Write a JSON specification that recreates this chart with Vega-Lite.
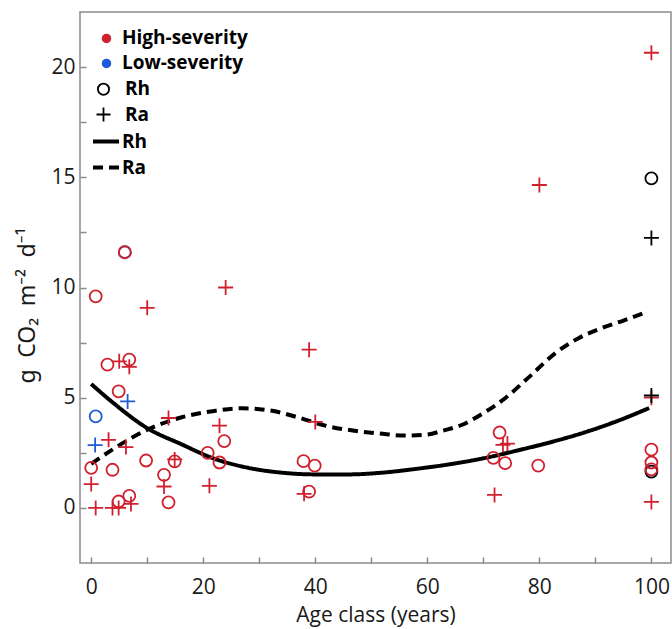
{
  "$schema": "https://vega.github.io/schema/vega-lite/v6.json",
  "width": 591,
  "height": 551,
  "autosize": {"type": "none"},
  "padding": {"left": 80, "top": 12, "right": 1, "bottom": 66},
  "config": {
    "font": "Open Sans",
    "view": {"stroke": "#8a8a8a", "strokeWidth": 1.5},
    "axis": {
      "grid": false,
      "domain": false,
      "tickColor": "#8a8a8a",
      "tickSize": -6,
      "tickWidth": 1.5,
      "labelFontSize": 21,
      "labelColor": "#1a1a1a",
      "labelPadding": 11,
      "titleFontSize": 21,
      "titleFontWeight": "normal",
      "titleColor": "#1a1a1a"
    }
  },
  "layer": [
    {
      "data": {
        "values": [
          {"age": 0, "flux": 5.62, "curve": "Rh fit"},
          {"age": 4, "flux": 4.75, "curve": "Rh fit"},
          {"age": 10, "flux": 3.62, "curve": "Rh fit"},
          {"age": 16, "flux": 2.9, "curve": "Rh fit"},
          {"age": 22, "flux": 2.23, "curve": "Rh fit"},
          {"age": 28, "flux": 1.82, "curve": "Rh fit"},
          {"age": 34, "flux": 1.6, "curve": "Rh fit"},
          {"age": 40, "flux": 1.52, "curve": "Rh fit"},
          {"age": 46, "flux": 1.52, "curve": "Rh fit"},
          {"age": 52, "flux": 1.6, "curve": "Rh fit"},
          {"age": 58, "flux": 1.77, "curve": "Rh fit"},
          {"age": 64, "flux": 1.98, "curve": "Rh fit"},
          {"age": 70, "flux": 2.25, "curve": "Rh fit"},
          {"age": 76, "flux": 2.6, "curve": "Rh fit"},
          {"age": 82, "flux": 2.98, "curve": "Rh fit"},
          {"age": 88, "flux": 3.42, "curve": "Rh fit"},
          {"age": 94, "flux": 3.95, "curve": "Rh fit"},
          {"age": 99.6, "flux": 4.53, "curve": "Rh fit"},
          {"age": 0, "flux": 2.0, "curve": "Ra fit"},
          {"age": 4, "flux": 2.68, "curve": "Ra fit"},
          {"age": 10, "flux": 3.55, "curve": "Ra fit"},
          {"age": 16, "flux": 4.1, "curve": "Ra fit"},
          {"age": 22, "flux": 4.4, "curve": "Ra fit"},
          {"age": 27, "flux": 4.52, "curve": "Ra fit"},
          {"age": 32, "flux": 4.42, "curve": "Ra fit"},
          {"age": 37, "flux": 4.1, "curve": "Ra fit"},
          {"age": 42, "flux": 3.72, "curve": "Ra fit"},
          {"age": 47, "flux": 3.5, "curve": "Ra fit"},
          {"age": 52, "flux": 3.36, "curve": "Ra fit"},
          {"age": 56, "flux": 3.28, "curve": "Ra fit"},
          {"age": 60, "flux": 3.33, "curve": "Ra fit"},
          {"age": 63, "flux": 3.52, "curve": "Ra fit"},
          {"age": 66, "flux": 3.75, "curve": "Ra fit"},
          {"age": 70, "flux": 4.3, "curve": "Ra fit"},
          {"age": 74, "flux": 5.0, "curve": "Ra fit"},
          {"age": 78, "flux": 5.9, "curve": "Ra fit"},
          {"age": 83, "flux": 7.05, "curve": "Ra fit"},
          {"age": 87, "flux": 7.7, "curve": "Ra fit"},
          {"age": 91, "flux": 8.15, "curve": "Ra fit"},
          {"age": 95, "flux": 8.5, "curve": "Ra fit"},
          {"age": 98.75, "flux": 8.85, "curve": "Ra fit"}
        ]
      },
      "mark": {"type": "line", "color": "black", "strokeWidth": 4, "interpolate": "monotone", "strokeCap": "butt"},
      "encoding": {
        "x": {"field": "age", "type": "quantitative"},
        "y": {"field": "flux", "type": "quantitative"},
        "strokeDash": {
          "field": "curve",
          "type": "nominal",
          "scale": {"domain": ["Rh fit", "Ra fit"], "range": [[1, 0], [10, 6]]},
          "legend": {
            "title": null,
            "orient": "none",
            "legendX": 11,
            "legendY": 114.5,
            "padding": 0,
            "symbolType": "stroke",
            "symbolSize": 676,
            "symbolStrokeWidth": 4,
            "symbolStrokeColor": "black",
            "labelExpr": "split(datum.label, ' ')[0]",
            "labelFontSize": 19,
            "labelFontWeight": "bold",
            "labelColor": "black",
            "labelOffset": 1,
            "rowPadding": 1
          }
        }
      }
    },
    {
      "data": {"values": []},
      "mark": {"type": "circle", "opacity": 1},
      "encoding": {
        "x": {"field": "age", "type": "quantitative"},
        "y": {"field": "flux", "type": "quantitative"},
        "color": {
          "field": "sev",
          "type": "nominal",
          "legend": {
            "title": null,
            "orient": "none",
            "legendX": 17,
            "legendY": 16.9,
            "padding": 0,
            "values": ["High-severity", "Low-severity"],
            "symbolType": "circle",
            "symbolSize": 64,
            "symbolOpacity": 1,
            "labelFontSize": 19,
            "labelFontWeight": "bold",
            "labelColor": "black",
            "labelOffset": 6,
            "rowPadding": 5
          }
        }
      }
    },
    {
      "data": {
        "values": [
          {"age": 6, "flux": 11.6, "sev": "Low-severity", "resp": "Rh"},
          {"age": 0.8, "flux": 4.15, "sev": "Low-severity", "resp": "Rh"},
          {"age": 6.5, "flux": 4.83, "sev": "Low-severity", "resp": "Ra"},
          {"age": 0.7, "flux": 2.85, "sev": "Low-severity", "resp": "Ra"},
          {"age": 100, "flux": 1.65, "sev": "Mature", "resp": "Rh"},
          {"age": 100, "flux": 14.95, "sev": "Mature", "resp": "Rh"},
          {"age": 100, "flux": 12.25, "sev": "Mature", "resp": "Ra"},
          {"age": 0.8, "flux": 9.6, "sev": "High-severity", "resp": "Rh"},
          {"age": 6, "flux": 11.6, "sev": "High-severity", "resp": "Rh"},
          {"age": 2.9, "flux": 6.5, "sev": "High-severity", "resp": "Rh"},
          {"age": 6.8, "flux": 6.73, "sev": "High-severity", "resp": "Rh"},
          {"age": 4.9, "flux": 5.29, "sev": "High-severity", "resp": "Rh"},
          {"age": 23.75, "flux": 3.03, "sev": "High-severity", "resp": "Rh"},
          {"age": 20.8, "flux": 2.5, "sev": "High-severity", "resp": "Rh"},
          {"age": 22.9, "flux": 2.06, "sev": "High-severity", "resp": "Rh"},
          {"age": 9.8, "flux": 2.15, "sev": "High-severity", "resp": "Rh"},
          {"age": 14.9, "flux": 2.11, "sev": "High-severity", "resp": "Rh"},
          {"age": 0, "flux": 1.82, "sev": "High-severity", "resp": "Rh"},
          {"age": 3.8, "flux": 1.73, "sev": "High-severity", "resp": "Rh"},
          {"age": 13, "flux": 1.5, "sev": "High-severity", "resp": "Rh"},
          {"age": 13.8, "flux": 0.25, "sev": "High-severity", "resp": "Rh"},
          {"age": 6.8, "flux": 0.55, "sev": "High-severity", "resp": "Rh"},
          {"age": 4.9, "flux": 0.29, "sev": "High-severity", "resp": "Rh"},
          {"age": 37.9, "flux": 2.12, "sev": "High-severity", "resp": "Rh"},
          {"age": 39.9, "flux": 1.92, "sev": "High-severity", "resp": "Rh"},
          {"age": 38.9, "flux": 0.74, "sev": "High-severity", "resp": "Rh"},
          {"age": 72.9, "flux": 3.42, "sev": "High-severity", "resp": "Rh"},
          {"age": 71.8, "flux": 2.27, "sev": "High-severity", "resp": "Rh"},
          {"age": 73.9, "flux": 2.03, "sev": "High-severity", "resp": "Rh"},
          {"age": 79.8, "flux": 1.92, "sev": "High-severity", "resp": "Rh"},
          {"age": 100, "flux": 2.64, "sev": "High-severity", "resp": "Rh"},
          {"age": 100, "flux": 2.06, "sev": "High-severity", "resp": "Rh"},
          {"age": 100, "flux": 1.75, "sev": "High-severity", "resp": "Rh"},
          {"age": 10, "flux": 9.08, "sev": "High-severity", "resp": "Ra"},
          {"age": 24, "flux": 10.0, "sev": "High-severity", "resp": "Ra"},
          {"age": 5, "flux": 6.65, "sev": "High-severity", "resp": "Ra"},
          {"age": 6.8, "flux": 6.4, "sev": "High-severity", "resp": "Ra"},
          {"age": 13.8, "flux": 4.08, "sev": "High-severity", "resp": "Ra"},
          {"age": 22.9, "flux": 3.73, "sev": "High-severity", "resp": "Ra"},
          {"age": 3.1, "flux": 3.09, "sev": "High-severity", "resp": "Ra"},
          {"age": 6.2, "flux": 2.76, "sev": "High-severity", "resp": "Ra"},
          {"age": 14.9, "flux": 2.2, "sev": "High-severity", "resp": "Ra"},
          {"age": 13, "flux": 0.97, "sev": "High-severity", "resp": "Ra"},
          {"age": 21.1, "flux": 1.0, "sev": "High-severity", "resp": "Ra"},
          {"age": 0, "flux": 1.08, "sev": "High-severity", "resp": "Ra"},
          {"age": 7.1, "flux": 0.18, "sev": "High-severity", "resp": "Ra"},
          {"age": 0.8, "flux": 0, "sev": "High-severity", "resp": "Ra"},
          {"age": 3.8, "flux": 0, "sev": "High-severity", "resp": "Ra"},
          {"age": 4.9, "flux": 0, "sev": "High-severity", "resp": "Ra"},
          {"age": 38.9, "flux": 7.18, "sev": "High-severity", "resp": "Ra"},
          {"age": 40, "flux": 3.9, "sev": "High-severity", "resp": "Ra"},
          {"age": 38, "flux": 0.64, "sev": "High-severity", "resp": "Ra"},
          {"age": 80, "flux": 14.65, "sev": "High-severity", "resp": "Ra"},
          {"age": 73.5, "flux": 2.86, "sev": "High-severity", "resp": "Ra"},
          {"age": 74.3, "flux": 2.92, "sev": "High-severity", "resp": "Ra"},
          {"age": 72, "flux": 0.59, "sev": "High-severity", "resp": "Ra"},
          {"age": 100, "flux": 20.65, "sev": "High-severity", "resp": "Ra"},
          {"age": 100, "flux": 5.0, "sev": "High-severity", "resp": "Ra"},
          {"age": 100, "flux": 0.27, "sev": "High-severity", "resp": "Ra"},
          {"age": 100, "flux": 5.1, "sev": "Mature", "resp": "Ra"}
        ]
      },
      "mark": {"type": "point", "filled": false, "size": 225, "strokeWidth": 1.8, "opacity": 1},
      "encoding": {
        "x": {
          "field": "age",
          "type": "quantitative",
          "title": "Age class (years)",
          "scale": {"domain": [-2, 103.5], "nice": false, "zero": false},
          "axis": {
            "values": [0, 10, 20, 30, 40, 50, 60, 70, 80, 90, 100],
            "labelExpr": "datum.value % 20 === 0 ? datum.label : ''",
            "labelPadding": 19,
            "titlePadding": 7
          }
        },
        "y": {
          "field": "flux",
          "type": "quantitative",
          "title": "g\u2002CO₂\u2002m⁻²\u2002d⁻¹",
          "scale": {"domain": [-2.5, 22.5], "nice": false, "zero": false},
          "axis": {
            "values": [0, 2.5, 5, 7.5, 10, 12.5, 15, 17.5, 20],
            "labelExpr": "datum.value % 5 === 0 ? datum.label : ''",
            "titlePadding": 11,
            "titleFont": "Noto Sans",
            "titleFontSize": 23,
            "titleY": 293
          }
        },
        "color": {
          "field": "sev",
          "type": "nominal",
          "scale": {"domain": ["High-severity", "Low-severity", "Mature"], "range": ["#d0202e", "#1f5bd8", "#000000"]},
          "legend": null
        },
        "shape": {
          "field": "resp",
          "type": "nominal",
          "scale": {"domain": ["Rh", "Ra"], "range": ["M0.8,0A0.8,0.8,0,1,1,-0.8,0A0.8,0.8,0,1,1,0.8,0Z", "M-1,0L1,0M0,-1L0,1"]},
          "legend": {
            "title": null,
            "orient": "none",
            "legendX": 14,
            "legendY": 67.7,
            "padding": 0,
            "symbolSize": 196,
            "symbolStrokeWidth": 1.8,
            "symbolStrokeColor": "black",
            "symbolFillColor": "transparent",
            "labelFontSize": 19,
            "labelFontWeight": "bold",
            "labelColor": "black",
            "labelOffset": 12,
            "rowPadding": 3.3
          }
        }
      }
    }
  ]
}
